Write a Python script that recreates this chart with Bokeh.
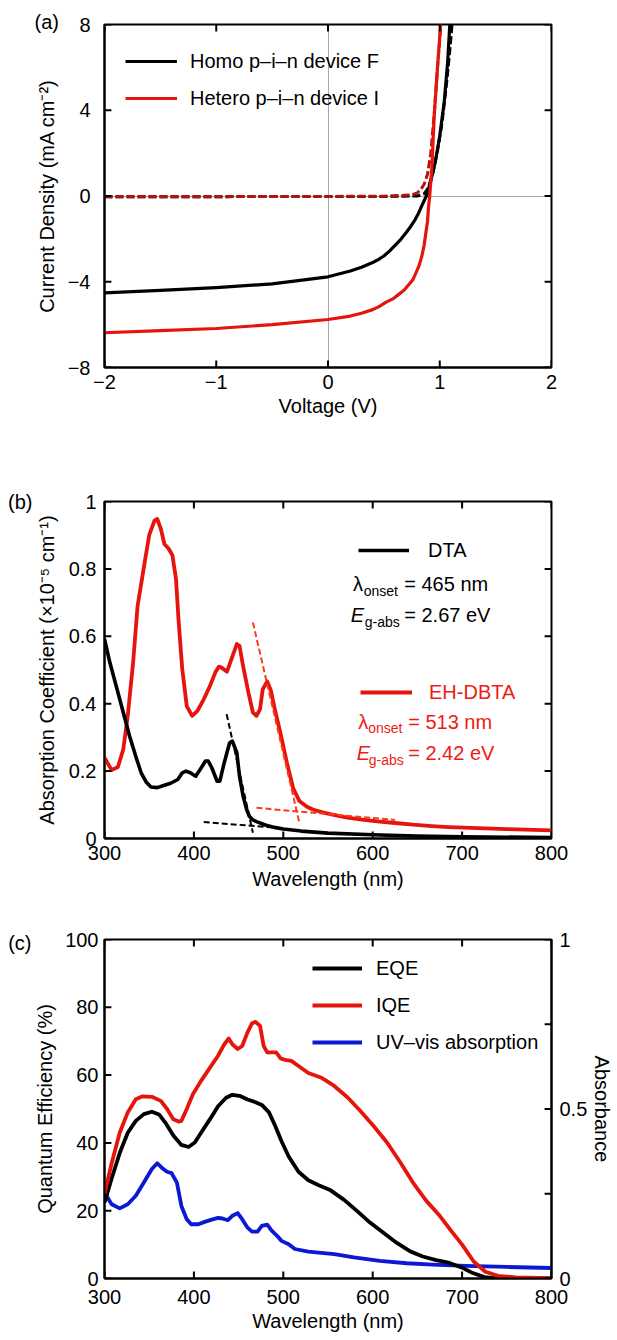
from bokeh.plotting import figure
from bokeh.models import Range1d, LinearAxis, FixedTicker, Label, Legend, LegendItem
from bokeh.layouts import column
from bokeh.embed import file_html
from bokeh.resources import INLINE

FONT = "Liberation Sans"
RED = "#e5140c"
DARK_RED = "#b3120e"
BLUE = "#0c18d4"
TXT_RED = "#f01a14"

# ---------------- (a) J-V data ----------------
v_homo = [-2.0, -1.5, -1.0, -0.5, 0.0, 0.2, 0.3, 0.4, 0.45, 0.5, 0.55, 0.6, 0.65, 0.7, 0.74, 0.78, 0.81, 0.84, 0.88, 0.92, 0.96, 1.0, 1.04, 1.07, 1.09]
j_homo = [-4.52, -4.4, -4.27, -4.1, -3.77, -3.5, -3.32, -3.1, -2.97, -2.8, -2.57, -2.3, -2.03, -1.7, -1.42, -1.1, -0.8, -0.45, 0.0, 0.7, 1.6, 2.8, 4.4, 6.2, 8.0]
v_hetero = [-2.0, -1.5, -1.0, -0.5, 0.0, 0.2, 0.3, 0.4, 0.46, 0.52, 0.58, 0.63, 0.68, 0.72, 0.76, 0.79, 0.815, 0.84, 0.86, 0.875, 0.89, 0.9, 0.91, 0.93, 0.95, 0.98, 1.008]
j_hetero = [-6.38, -6.28, -6.18, -6.0, -5.76, -5.6, -5.47, -5.3, -5.15, -4.95, -4.8, -4.6, -4.4, -4.15, -3.9, -3.55, -3.25, -2.8, -2.3, -1.75, -1.2, -0.5, 0.0, 1.36, 3.7, 6.0, 8.0]
v_homo_dark = [-2.0, -1.0, 0.0, 0.5, 0.8, 0.86, 0.9, 0.94, 0.98, 1.02, 1.06, 1.09, 1.11]
j_homo_dark = [-0.03, -0.03, -0.02, -0.02, 0.0, 0.1, 0.4, 1.1, 2.1, 3.4, 5.2, 6.8, 8.0]
v_hetero_dark = [-2.0, -1.0, 0.0, 0.5, 0.75, 0.8, 0.83, 0.86, 0.89, 0.92, 0.95, 0.98, 1.01]
j_hetero_dark = [-0.03, -0.03, -0.02, -0.01, 0.05, 0.15, 0.3, 0.55, 1.0, 2.0, 3.8, 6.0, 8.0]
v_range = (-2, 2)
j_range = (-8, 8)
v_ticks = [-2, -1, 0, 1, 2]
j_ticks = [-8, -4, 0, 4, 8]

# ---------------- (b) absorption data ----------------
wl_ehdbta = [300, 308, 315, 321, 326, 332, 337, 345, 350, 356, 359, 363, 367, 372, 376, 380, 383, 387, 392, 398,
             404, 411, 418, 424, 428, 431, 437, 442, 448, 451, 455, 461, 466, 470, 474, 477, 482, 486, 490, 497,
             504, 511, 518, 526, 533, 545, 555, 570, 588, 605, 625, 645, 666, 685, 702, 750, 800]
a_ehdbta = [0.240, 0.203, 0.212, 0.265, 0.364, 0.522, 0.690, 0.820, 0.900, 0.944, 0.948, 0.919, 0.874, 0.859, 0.840, 0.770, 0.641, 0.502, 0.393, 0.364,
            0.379, 0.413, 0.453, 0.493, 0.510, 0.507, 0.495, 0.532, 0.577, 0.572, 0.512, 0.433, 0.374, 0.364, 0.384, 0.443, 0.466, 0.440, 0.390, 0.310,
            0.225, 0.150, 0.111, 0.095, 0.086, 0.077, 0.071, 0.063, 0.056, 0.051, 0.046, 0.041, 0.037, 0.034, 0.032, 0.028, 0.024]
wl_dta = [300, 306, 313, 321, 328, 336, 341, 347, 352, 359, 367, 374, 382, 387, 391, 396, 402, 407, 413, 416,
          420, 426, 429, 433, 437, 440, 443, 448, 451, 455, 459, 462, 466, 470, 480, 490, 500, 520, 550, 600,
          650, 700, 800]
a_dta = [0.592, 0.522, 0.453, 0.374, 0.304, 0.235, 0.195, 0.166, 0.153, 0.151, 0.158, 0.164, 0.175, 0.195, 0.200, 0.195, 0.185, 0.205, 0.230, 0.230,
         0.210, 0.170, 0.170, 0.215, 0.255, 0.284, 0.289, 0.255, 0.185, 0.126, 0.086, 0.066, 0.055, 0.050, 0.040, 0.033, 0.028, 0.022, 0.016, 0.011,
         0.007, 0.005, 0.003]
# onset tangent lines (endpoints)
tan_dta_steep_x = [436.6, 466.0]
tan_dta_steep_y = [0.369, 0.017]
tan_dta_base_x = [411.0, 500.0]
tan_dta_base_y = [0.049, 0.030]
tan_eh_steep_x = [466.0, 518.4]
tan_eh_steep_y = [0.641, 0.042]
tan_eh_base_x = [470.0, 625.0]
tan_eh_base_y = [0.091, 0.055]
wl_range = (300, 800)
coef_range = (0, 1)
wl_ticks = [300, 400, 500, 600, 700, 800]
coef_ticks = [0, 0.2, 0.4, 0.6, 0.8, 1.0]

# ---------------- (c) quantum efficiency data ----------------
wl_eqe = [300, 308, 317, 326, 335, 344, 353, 361, 368, 377, 386, 394, 401, 408, 418, 427, 436, 443, 451, 460,
          469, 476, 484, 491, 498, 506, 517, 528, 539, 553, 568, 583, 597, 612, 627, 642, 656, 671, 686, 700,
          712, 725, 740, 800]
eqe = [22.4, 29.5, 37.0, 43.0, 46.5, 48.5, 49.2, 48.4, 46.0, 42.2, 39.4, 38.8, 40.1, 43.0, 47.0, 50.8, 53.3, 54.2, 53.9, 52.8,
       52.0, 51.2, 49.0, 45.0, 40.5, 36.0, 31.5, 29.0, 27.6, 26.0, 23.2, 19.8, 16.5, 13.5, 10.5, 8.0, 6.5, 5.4, 4.6, 3.2,
       1.6, 0.4, 0.0, 0.0]
wl_iqe = [300, 308, 317, 326, 335, 342, 353, 363, 370, 377, 383, 386, 392, 399, 408, 418, 427, 434, 439, 443,
          449, 454, 460, 465, 469, 474, 478, 482, 487, 492, 497, 502, 509, 517, 528, 542, 557, 572, 586, 601,
          616, 631, 645, 660, 675, 688, 700, 713, 726, 740, 760, 800]
iqe = [25.0, 34.0, 43.0, 49.0, 52.9, 53.7, 53.6, 52.4, 50.0, 47.0, 46.3, 46.5, 50.0, 54.4, 58.3, 62.2, 65.7, 69.1, 70.8, 69.1,
       67.7, 68.6, 72.6, 75.3, 75.7, 74.5, 68.6, 66.7, 66.7, 66.7, 64.9, 64.5, 64.2, 62.7, 60.6, 59.3, 56.8, 53.4, 49.5, 45.0,
       40.1, 34.2, 28.3, 22.9, 18.5, 14.0, 10.0, 5.0, 2.0, 0.8, 0.3, 0.1]
wl_uv = [300, 308, 317, 326, 335, 344, 353, 359, 364, 370, 375, 381, 386, 392, 397, 405, 412, 419, 427, 432,
         438, 443, 449, 454, 460, 465, 471, 476, 482, 487, 493, 498, 506, 513, 528, 557, 579, 608, 638, 667,
         704, 750, 800]
uv = [0.254, 0.219, 0.207, 0.219, 0.244, 0.283, 0.323, 0.340, 0.327, 0.315, 0.311, 0.283, 0.214, 0.175, 0.160, 0.160, 0.167, 0.173, 0.179, 0.177,
      0.172, 0.185, 0.193, 0.175, 0.150, 0.138, 0.138, 0.155, 0.159, 0.141, 0.126, 0.111, 0.101, 0.087, 0.079, 0.072, 0.062, 0.052, 0.045, 0.041,
      0.037, 0.034, 0.031]
qe_range = (0, 100)
absb_range = (0, 1)
qe_ticks = [0, 20, 40, 60, 80, 100]
absb_ticks = [0, 0.25, 0.5, 0.75, 1.0]

W = 616
LEFT = 104
FRAME_W = 454
RIGHT = W - LEFT - FRAME_W
TICK_LEN = 7


def style_axis(ax, standoff=8, label_standoff=5, size="20px"):
    ax.axis_label_text_font = FONT
    ax.axis_label_text_font_size = "20px"
    ax.axis_label_text_font_style = "normal"
    ax.axis_label_text_color = "black"
    ax.major_label_text_font = FONT
    ax.major_label_text_font_size = size
    ax.major_label_text_color = "black"
    ax.major_tick_in = 0
    ax.major_tick_out = 0
    ax.minor_tick_line_color = None
    ax.axis_line_width = 2
    ax.axis_line_color = "black"
    ax.major_label_standoff = standoff
    ax.axis_label_standoff = label_standoff


def tag_axis(tick, text):
    # an outer left axis that only carries the panel tag, e.g. "(b)"
    ax = LinearAxis(ticker=FixedTicker(ticks=[tick]), axis_label=None)
    ax.major_label_overrides = {tick: text}
    style_axis(ax, standoff=0, label_standoff=0)
    ax.axis_line_color = None
    ax.major_tick_line_color = None
    return ax


def make_fig(xr, yr, h, top, bottom):
    p = figure(width=W, height=h, x_range=Range1d(*xr), y_range=Range1d(*yr), output_backend="svg",
               toolbar_location=None, min_border_left=LEFT, min_border_right=RIGHT,
               min_border_top=top, min_border_bottom=bottom)
    p.outline_line_color = "black"
    p.outline_line_width = 2
    p.background_fill_color = "white"
    p.border_fill_color = "white"
    p.xgrid.visible = False
    p.ygrid.visible = False
    return p


def inner_ticks(p, frame_h, xticks, xr, yticks, yr, sides=("bottom", "top", "left", "right"), y_range_name="default"):
    # short tick marks pointing into the frame, TICK_LEN pixels long
    dx = (xr[1] - xr[0]) * TICK_LEN / FRAME_W
    dy = (yr[1] - yr[0]) * TICK_LEN / frame_h
    kw = dict(line_color="black", line_width=2, line_cap="butt", y_range_name=y_range_name)
    nx, ny = len(xticks), len(yticks)
    if "bottom" in sides:
        p.segment(x0=xticks, y0=[yr[0]] * nx, x1=xticks, y1=[yr[0] + dy] * nx, **kw)
    if "top" in sides:
        p.segment(x0=xticks, y0=[yr[1]] * nx, x1=xticks, y1=[yr[1] - dy] * nx, **kw)
    if "left" in sides:
        p.segment(x0=[xr[0]] * ny, y0=yticks, x1=[xr[0] + dx] * ny, y1=yticks, **kw)
    if "right" in sides:
        p.segment(x0=[xr[1]] * ny, y0=yticks, x1=[xr[1] - dx] * ny, y1=yticks, **kw)


def add_text(p, x, y, text, size="20px", color="black", italic=False):
    p.add_layout(Label(x=x, y=y, text=text, text_font=FONT, text_font_size=size, text_color=color,
                       text_font_style="italic" if italic else "normal",
                       text_baseline="middle", text_align="left"))


def make_legend(items, loc, glyph_width, standoff, spacing=13, color="black"):
    return Legend(items=items, location=loc, padding=0, margin=0, spacing=spacing,
                  glyph_width=glyph_width, glyph_height=24, label_height=24, label_standoff=standoff,
                  label_text_font=FONT, label_text_font_size="20px", label_text_color=color,
                  border_line_color=None, background_fill_alpha=0)


def sign(v):
    return str(v).replace("-", "\u2212")


# ================= (a) =================
HA, TA, BA = 470, 24, 103
pa = make_fig(v_range, j_range, HA, TA, BA)
pa.title.text = "(a)"
pa.title.align = "left"
pa.title.offset = -70
pa.title.vertical_align = "bottom"
pa.title.standoff = -16
pa.title.text_font = FONT
pa.title.text_font_size = "20px"
pa.title.text_font_style = "normal"
pa.title.text_color = "black"

pa.xgrid.visible = True
pa.ygrid.visible = True
pa.xgrid.ticker = FixedTicker(ticks=[0])
pa.ygrid.ticker = FixedTicker(ticks=[0])
for g in (pa.xgrid, pa.ygrid):
    g.grid_line_color = "#a8a8a8"
    g.grid_line_width = 1

pa.xaxis.ticker = FixedTicker(ticks=v_ticks)
pa.yaxis.ticker = FixedTicker(ticks=j_ticks)
pa.xaxis.major_label_overrides = {t: sign(t) for t in v_ticks}
pa.yaxis.major_label_overrides = {t: sign(t) for t in j_ticks}
pa.xaxis.axis_label = "Voltage (V)"
pa.yaxis.axis_label = "Current Density (mA cm\u207b\u00b2)"
style_axis(pa.xaxis[0], standoff=7, label_standoff=3)
style_axis(pa.yaxis[0], standoff=14, label_standoff=7)

pa.line(v_homo_dark, j_homo_dark, line_color="black", line_width=3, line_dash="8 3")
pa.line(v_hetero_dark, j_hetero_dark, line_color=DARK_RED, line_width=3, line_dash="8 3")
r_homo = pa.line(v_homo, j_homo, line_color="black", line_width=3.2, line_join="round")
r_het = pa.line(v_hetero, j_hetero, line_color=RED, line_width=3.2, line_join="round")
inner_ticks(pa, HA - TA - BA, v_ticks, v_range, j_ticks, j_range)
pa.add_layout(make_legend([LegendItem(label="Homo p\u2013i\u2013n device F", renderers=[r_homo]),
                           LegendItem(label="Hetero p\u2013i\u2013n device I", renderers=[r_het])],
                          (21, 257), 52, 13))

# ================= (b) =================
HB, TB, BB = 440, 31, 72
pb = make_fig(wl_range, coef_range, HB, TB, BB)
pb.xaxis.ticker = FixedTicker(ticks=wl_ticks)
pb.yaxis.ticker = FixedTicker(ticks=coef_ticks)
pb.yaxis.major_label_overrides = {0: "0", 0.2: "0.2", 0.4: "0.4", 0.6: "0.6", 0.8: "0.8", 1.0: "1"}
pb.xaxis.axis_label = "Wavelength (nm)"
pb.yaxis.axis_label = "Absorption Coefficient (\u00d710\u207b\u2075 cm\u207b\u00b9)"
style_axis(pb.xaxis[0], standoff=7, label_standoff=5)
style_axis(pb.yaxis[0], standoff=8, label_standoff=8)
pb.add_layout(tag_axis(1.0, "(b)"), "left")

r_eh = pb.line(wl_ehdbta, a_ehdbta, line_color=RED, line_width=3.8, line_join="round")
r_dta = pb.line(wl_dta, a_dta, line_color="black", line_width=3.6, line_join="round")
pb.line(tan_dta_steep_x, tan_dta_steep_y, line_color="black", line_width=2, line_dash="6 3")
pb.line(tan_dta_base_x, tan_dta_base_y, line_color="black", line_width=2, line_dash="6 3")
pb.line(tan_eh_steep_x, tan_eh_steep_y, line_color="#ff3a1a", line_width=2, line_dash="6 3")
pb.line(tan_eh_base_x, tan_eh_base_y, line_color="#ff3a1a", line_width=2, line_dash="6 3")
inner_ticks(pb, HB - TB - BB, wl_ticks, wl_range, coef_ticks, coef_range)

pb.add_layout(make_legend([LegendItem(label="DTA", renderers=[r_dta])], (254, 276), 51, 19))
pb.add_layout(make_legend([LegendItem(label="EH-DBTA", renderers=[r_eh])], (256, 134), 52, 17, color=TXT_RED))

add_text(pb, 577.9, 0.755, "\u03bb")
add_text(pb, 590.0, 0.733, "onset", size="14px")
add_text(pb, 635.3, 0.755, "= 465 nm")
add_text(pb, 575.4, 0.663, "E", italic=True)
add_text(pb, 591.2, 0.641, "g-abs", size="14px")
add_text(pb, 635.3, 0.663, "= 2.67 eV")
add_text(pb, 583.9, 0.346, "\u03bb", color=TXT_RED)
add_text(pb, 594.9, 0.327, "onset", size="14px", color=TXT_RED)
add_text(pb, 639.7, 0.346, "= 513 nm", color=TXT_RED)
add_text(pb, 582.2, 0.255, "E", color=TXT_RED, italic=True)
add_text(pb, 595.6, 0.232, "g-abs", size="14px", color=TXT_RED)
add_text(pb, 639.7, 0.255, "= 2.42 eV", color=TXT_RED)

# ================= (c) =================
HC, TC, BC = 428, 29, 60
pc = make_fig(wl_range, qe_range, HC, TC, BC)
pc.extra_y_ranges = {"absb": Range1d(*absb_range)}
pc.xaxis.ticker = FixedTicker(ticks=wl_ticks)
pc.yaxis.ticker = FixedTicker(ticks=qe_ticks)
pc.xaxis.axis_label = "Wavelength (nm)"
pc.yaxis.axis_label = "Quantum Efficiency (%)"
style_axis(pc.xaxis[0], standoff=11, label_standoff=3)
style_axis(pc.yaxis[0], standoff=6, label_standoff=6)
pc.add_layout(tag_axis(99.0, "(c)"), "left")
ax_r = LinearAxis(y_range_name="absb", ticker=FixedTicker(ticks=absb_ticks), axis_label="Absorbance")
ax_r.major_label_overrides = {0: "0", 0.25: "", 0.5: "0.5", 0.75: "", 1.0: "1"}
style_axis(ax_r, standoff=8, label_standoff=1)
pc.add_layout(ax_r, "right")

r_uv = pc.line(wl_uv, uv, y_range_name="absb", line_color=BLUE, line_width=3.8, line_join="round")
r_eqe = pc.line(wl_eqe, eqe, line_color="black", line_width=3.8, line_join="round")
r_iqe = pc.line(wl_iqe, iqe, line_color=RED, line_width=3.8, line_join="round")
inner_ticks(pc, HC - TC - BC, wl_ticks, wl_range, qe_ticks, qe_range, sides=("bottom", "top", "left"))
inner_ticks(pc, HC - TC - BC, wl_ticks, wl_range, absb_ticks, absb_range, sides=("right",), y_range_name="absb")
pc.add_layout(make_legend([LegendItem(label="EQE", renderers=[r_eqe]),
                           LegendItem(label="IQE", renderers=[r_iqe]),
                           LegendItem(label="UV\u2013vis absorption", renderers=[r_uv])],
                          (208, 224), 50, 14))

layout = column(pa, pb, pc, spacing=0)
open("out.html", "w").write(file_html(layout, INLINE))
